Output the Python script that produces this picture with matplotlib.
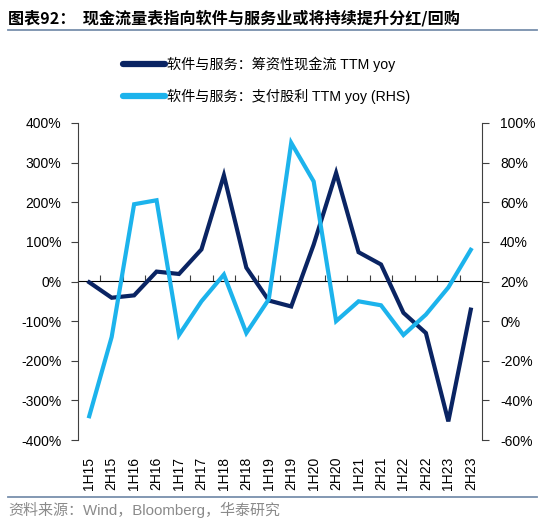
import numpy as np
import matplotlib
matplotlib.use("Agg")
import matplotlib.pyplot as plt
from matplotlib.lines import Line2D

plt.rcParams['font.family'] = ['Liberation Sans', 'Noto Sans CJK SC']

periods = ['1H15', '2H15', '1H16', '2H16', '1H17', '2H17', '1H18', '2H18', '1H19',
           '2H19', '1H20', '2H20', '1H21', '2H21', '1H22', '2H22', '1H23', '2H23']
# 筹资性现金流 TTM yoy (%), left axis
financing_cf = [-2, -41, -35, 25, 19, 81, 268, 35, -48, -63, 93, 274, 74, 43, -79, -130, -353, -71]
# 支付股利 TTM yoy (%), right axis
dividends = [-48, -8, 59, 61, -7, 10, 23.5, -6, 11, 90, 70.5, 0, 10, 8, -7, 3.3, 17, 36]

label_cf = '软件与服务：筹资性现金流 TTM yoy'
label_div = '软件与服务：支付股利 TTM yoy (RHS)'

dark = '#0a2463'
light = '#1cb3ec'
spine_col = '#404040'

fig = plt.figure(figsize=(5.5, 5.29), dpi=100)
ax = fig.add_axes([78 / 550, 1 - 440 / 529, (482 - 78) / 550, (440 - 123) / 529])
ax2 = ax.twinx()

x = np.arange(len(periods))
ax.plot(x, financing_cf, color=dark, lw=3.0, solid_joinstyle='miter')
ax2.plot(x, dividends, color=light, lw=3.0, solid_joinstyle='miter')

ax.set_xlim(-0.5, len(periods) - 0.5)
ax.set_ylim(-400, 400)
ax2.set_ylim(-60, 100)
ax.set_yticks(np.arange(-400, 401, 100))
ax.set_yticklabels([f'{v}%' for v in range(-400, 401, 100)])
ax2.set_yticks(np.arange(-60, 101, 20))
ax2.set_yticklabels([f'{v}%' for v in range(-60, 101, 20)])

ax.set_xticks(x)
ax.set_xticklabels(periods, rotation=90)
ax.tick_params(axis='x', length=0, pad=12, labelsize=10)
ax.tick_params(axis='y', direction='out', length=5, color=spine_col, labelsize=10, pad=7)
ax2.tick_params(axis='y', direction='out', length=5, color=spine_col, labelsize=10, pad=8)

for a in (ax, ax2):
    a.spines['top'].set_visible(False)
    a.spines['bottom'].set_visible(False)
    a.patch.set_visible(False)
ax.spines['right'].set_visible(False)
ax2.spines['left'].set_visible(False)
ax.spines['left'].set_color(spine_col)
ax2.spines['right'].set_color(spine_col)

# zero line with category boundary ticks
zero = ax.secondary_xaxis(0.5)
zero.set_xticks(np.arange(0.5, len(periods) - 1, 1))
zero.set_xticklabels([])
zero.tick_params(axis='x', direction='out', length=4, color=spine_col)
zero.spines['bottom'].set_color(spine_col)
zero.set_zorder(0)

handles = [Line2D([], [], color=dark, lw=4.5, solid_capstyle='round'),
           Line2D([], [], color=light, lw=4.5, solid_capstyle='round')]
fig.legend(handles, [label_cf, label_div], loc='upper left',
           bbox_to_anchor=(110 / 550, 1 - 44 / 529), frameon=False, fontsize=10.2,
           handlelength=3.0, handletextpad=0.1, labelspacing=1.2)

fig.text(8 / 550, 1 - 18 / 529, '图表92：  现金流量表指向软件与服务业或将持续提升分红/回购',
         fontsize=11.6, fontweight='bold', va='center', ha='left',
         family=['Noto Sans CJK SC', 'DejaVu Sans'])
fig.add_artist(Line2D([8 / 550, 537 / 550], [1 - 30 / 529, 1 - 30 / 529],
                      color='#7890ad', lw=1.3))
fig.add_artist(Line2D([8 / 550, 537 / 550], [1 - 497 / 529, 1 - 497 / 529],
                      color='#7890ad', lw=1.3))
fig.text(8 / 550, 1 - 510 / 529, '资料来源：Wind，Bloomberg，华泰研究', fontsize=10.8,
         color='#8a8a8a', va='center', ha='left')

fig.savefig('out.png', dpi=100)
